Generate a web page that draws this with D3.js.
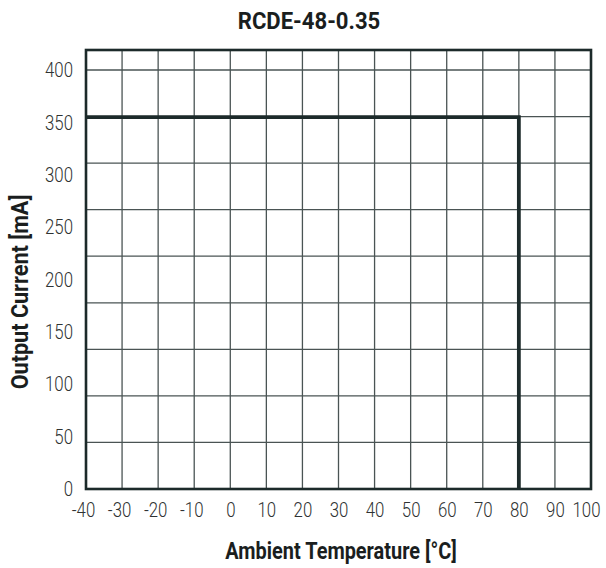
<!DOCTYPE html>
<html>
<head>
<meta charset="utf-8">
<script src="https://cdn.jsdelivr.net/npm/d3@7"></script>
<style>
  body { margin: 0; background: #fff; }
  .tick-label { font-family: Roboto, "Liberation Sans", sans-serif; font-weight: 300; font-size: 21px; fill: #2e3232; }
  .title { font-family: Roboto, "Liberation Sans", sans-serif; font-weight: bold; font-size: 24px; fill: #1a1e1e; }
</style>
</head>
<body>
<script>
// derating curve
const temperatures = [-40, 80, 80];
const currents = [355, 355, 0];

const xTicks = [-40, -30, -20, -10, 0, 10, 20, 30, 40, 50, 60, 70, 80, 90, 100];
const yTicks = [0, 50, 100, 150, 200, 250, 300, 350, 400];
const yGridSteps = 9;

const width = 606, height = 568;
const plotLeft = 86, plotRight = 591, plotTop = 50, plotBottom = 489;

const svg = d3.select("body").append("svg")
  .attr("width", width)
  .attr("height", height);

const x = d3.scaleLinear().domain([-40, 100]).range([plotLeft, plotRight]);
const y = d3.scaleLinear().domain([0, 400]).range([plotBottom, 70]);

// squeeze text horizontally, the original uses a condensed face
function condense(sel, factor) {
  sel.each(function() {
    const w = this.getComputedTextLength();
    d3.select(this)
      .attr("textLength", w * factor)
      .attr("lengthAdjust", "spacingAndGlyphs");
  });
}

// grid
const grid = svg.append("g");
grid.selectAll("line.v")
  .data(xTicks.slice(1, -1))
  .enter().append("line")
  .attr("x1", d => x(d)).attr("x2", d => x(d))
  .attr("y1", plotTop).attr("y2", plotBottom)
  .attr("stroke", "#4a5454").attr("stroke-width", 1.3);

grid.selectAll("line.h")
  .data(d3.range(1, yGridSteps + 1).map(i => i * 400 / yGridSteps))
  .enter().append("line")
  .attr("x1", plotLeft).attr("x2", plotRight)
  .attr("y1", d => y(d)).attr("y2", d => y(d))
  .attr("stroke", "#4a5454").attr("stroke-width", 1.3);

// frame
svg.append("rect")
  .attr("x", plotLeft).attr("y", plotTop)
  .attr("width", plotRight - plotLeft).attr("height", plotBottom - plotTop)
  .attr("fill", "none")
  .attr("stroke", "#1c2a2a")
  .attr("stroke-width", 2.6);

// curve
const line = d3.line()
  .x((d, i) => x(temperatures[i]))
  .y((d, i) => y(currents[i]));

svg.append("path")
  .attr("d", line(temperatures))
  .attr("fill", "none")
  .attr("stroke", "#1c2a2a")
  .attr("stroke-width", 3.8);

// axes (labels only)
const xAxis = d3.axisBottom(x).tickValues(xTicks).tickSize(0).tickPadding(13)
  .tickFormat(d => String(d));
const gx = svg.append("g").attr("transform", "translate(0," + plotBottom + ")").call(xAxis);
gx.select(".domain").remove();
gx.selectAll("text")
  .attr("class", "tick-label").attr("fill", null)
  .attr("dx", d => d < 0 ? -3 : (d === 100 ? -5 : 0))
  .call(condense, 0.8);

const yAxis = d3.axisLeft(y).tickValues(yTicks).tickSize(0).tickPadding(13)
  .tickFormat(d => String(d));
const gy = svg.append("g").attr("transform", "translate(" + plotLeft + ",0)").call(yAxis);
gy.select(".domain").remove();
gy.selectAll("text")
  .attr("class", "tick-label").attr("fill", null)
  .call(condense, 0.8);

// titles
svg.append("text")
  .attr("class", "title")
  .attr("x", 309).attr("y", 29)
  .attr("text-anchor", "middle")
  .text("RCDE-48-0.35")
  .call(condense, 0.92);

svg.append("text")
  .attr("class", "title")
  .attr("x", 341).attr("y", 559)
  .attr("text-anchor", "middle")
  .text("Ambient Temperature [°C]")
  .call(condense, 0.83);

svg.append("text")
  .attr("class", "title")
  .attr("transform", "translate(28,292) rotate(-90)")
  .attr("text-anchor", "middle")
  .text("Output Current [mA]")
  .call(condense, 0.9);
</script>
</body>
</html>
